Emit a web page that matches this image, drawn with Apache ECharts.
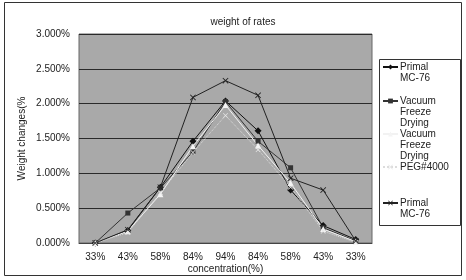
<!DOCTYPE html>
<html>
<head>
<meta charset="utf-8">
<script src="https://cdn.jsdelivr.net/npm/echarts@6/dist/echarts.min.js"></script>
<style>
  html, body { margin: 0; padding: 0; background: #fff; }
  #chart { width: 466px; height: 280px; }
</style>
</head>
<body>
<div id="chart"></div>
<script>
// 数据
const categories = ["33%", "43%", "58%", "84%", "94%", "84%", "58%", "43%", "33%"];
const primal = [0.0, 0.18, 0.80, 1.46, 2.04, 1.61, 0.76, 0.25, 0.05];
const vacuum = [0.0, 0.43, 0.79, 1.31, 2.03, 1.46, 1.08, 0.22, 0.03];
const vacuum2 = [0.0, 0.17, 0.70, 1.39, 1.98, 1.40, 0.86, 0.20, 0.02];
const peg = [0.0, 0.15, 0.72, 1.30, 1.83, 1.34, 0.80, 0.17, 0.01];
const primal2 = [0.0, 0.19, 0.80, 2.09, 2.33, 2.12, 0.93, 0.76, 0.03];
const yTicks = [0, 0.5, 1, 1.5, 2, 2.5, 3];

const FONT = "Liberation Sans";
const starPath = "path://M0,1L1,0L5,4L9,0L10,1L6,5L10,9L9,10L5,6L1,10L0,9L4,5Z";

// 图例名称（第一行对齐图标）
const legendItems = [
  { name: "Primal MC-76", text: "Primal\nMC-76", y: 67 },
  { name: "Vacuum Freeze Drying", text: "Vacuum\nFreeze\nDrying", y: 101 },
  { name: "Vacuum Freeze Drying ", text: "Vacuum\nFreeze\nDrying", y: 134 },
  { name: "PEG#4000", text: "PEG#4000", y: 167 },
  { name: "Primal MC-76 ", text: "Primal\nMC-76", y: 203 },
];

const LH = 11;
const legends = legendItems.map((it) => {
  const lines = it.text.split("\n");
  const pad = lines.length - 1;
  const txt = "\n".repeat(pad) + it.text;
  const n = lines.length + pad;
  return {
    data: [it.name],
    left: 382,
    top: it.y - (n * LH) / 2,
    padding: 0,
    itemWidth: 15,
    itemHeight: 6,
    itemGap: 0,
    formatter: () => txt,
    textStyle: { fontFamily: FONT, fontSize: 10, color: "#222", lineHeight: LH, padding: [0, 0, 0, -3] },
  };
});

const option = {
  animation: false,
  backgroundColor: "#fff",
  title: {
    text: "weight of rates",
    left: 238,
    textAlign: "center",
    top: 12,
    textStyle: { fontFamily: FONT, fontSize: 10, fontWeight: "normal", color: "#222" },
  },
  graphic: [
    {
      type: "rect",
      z: 0,
      shape: { x: 4.5, y: 2.5, width: 457, height: 273 },
      style: { fill: null, stroke: "#333", lineWidth: 1 },
    },
    {
      type: "rect",
      z: 0,
      shape: { x: 379.5, y: 59.5, width: 81, height: 166 },
      style: { fill: "#fff", stroke: "#333", lineWidth: 1 },
    },
  ],
  legend: legends,
  grid: {
    left: 79,
    right: 94,
    top: 34,
    bottom: 37,
    show: true,
    backgroundColor: "#a9a9a9",
    borderColor: "#666",
    borderWidth: 1,
  },
  xAxis: {
    type: "category",
    data: categories,
    boundaryGap: true,
    name: "concentration(%)",
    nameLocation: "middle",
    nameGap: 21,
    nameMoveOverlap: false,
    nameTextStyle: { fontFamily: FONT, fontSize: 10, color: "#222" },
    axisLine: { lineStyle: { color: "#444" } },
    axisTick: { show: false },
    axisLabel: { fontFamily: FONT, fontSize: 10, color: "#222", margin: 9 },
  },
  yAxis: {
    type: "value",
    min: 0,
    max: 3,
    interval: 0.5,
    name: "Weight changes(%",
    nameLocation: "middle",
    nameGap: 52,
    nameMoveOverlap: false,
    nameTextStyle: { fontFamily: FONT, fontSize: 10, color: "#222" },
    axisLine: { show: false },
    axisTick: { show: false },
    splitLine: { lineStyle: { color: "#2a2a2a", width: 1 } },
    axisLabel: {
      fontFamily: FONT,
      fontSize: 10,
      color: "#222",
      margin: 9,
      formatter: (v) => (yTicks.includes(v) ? v.toFixed(3) + "%" : ""),
    },
  },
  series: [
    {
      name: "Primal MC-76",
      type: "line",
      data: primal,
      symbol: "diamond",
      symbolSize: 7,
      lineStyle: { color: "#111", width: 1 },
      itemStyle: { color: "#111" },
    },
    {
      name: "Vacuum Freeze Drying",
      type: "line",
      data: vacuum,
      symbol: "rect",
      symbolSize: 5,
      lineStyle: { color: "#333", width: 1 },
      itemStyle: { color: "#333" },
    },
    {
      name: "Vacuum Freeze Drying ",
      type: "line",
      data: vacuum2,
      symbol: "triangle",
      symbolSize: 6,
      lineStyle: { color: "#f2f2f2", width: 1 },
      itemStyle: { color: "#f4f4f4" },
    },
    {
      name: "PEG#4000",
      type: "line",
      data: peg,
      symbol: starPath,
      symbolSize: 5,
      lineStyle: { color: "#dcdcdc", width: 1, type: "dotted" },
      itemStyle: { color: "#e6e6e6" },
    },
    {
      name: "Primal MC-76 ",
      type: "line",
      data: primal2,
      symbol: starPath,
      symbolSize: 6,
      lineStyle: { color: "#222", width: 1 },
      itemStyle: { color: "#222" },
    },
  ],
};

const myChart = echarts.init(document.getElementById("chart"));
myChart.setOption(option);
</script>
</body>
</html>
